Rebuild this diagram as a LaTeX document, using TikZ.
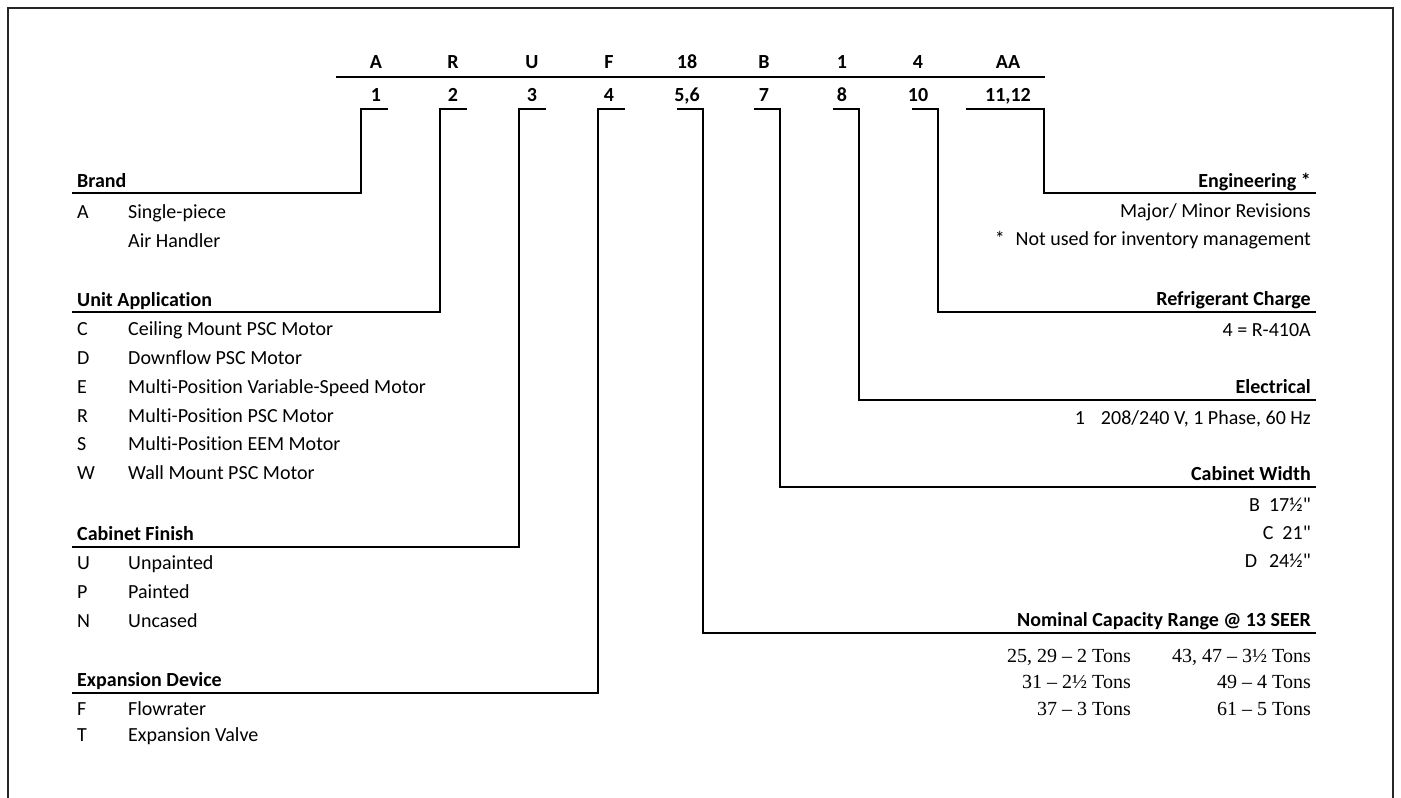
\documentclass[tikz,border=0pt]{standalone}
\usepackage{fontspec}
\setmainfont{Carlito}[Ligatures={TeXOff,NoCommon}]
\newfontfamily\capserif{Liberation Serif}
\newcommand\bodysize{\fontsize{20}{24}\selectfont}
\tikzset{
  code/.style={font=\bodysize\bfseries,inner sep=0pt,anchor=base},
  fieldhead/.style={font=\bodysize\bfseries,inner sep=0pt},
  opt/.style={font=\bodysize,inner sep=0pt},
  tons/.style={font=\capserif\bodysize,inner sep=0pt,anchor=base east},
  wire/.style={draw=black,line width=2pt},
  frame/.style={draw=black!85,line width=2.2pt}
}
\begin{document}
\begin{tikzpicture}[x=1pt,y=-1pt]
  \useasboundingbox (0,0) rectangle (1401,798);
  \draw[frame] (8,798) -- (8,8) -- (1393,8) -- (1393,798);
  % model number and digit positions
  \node[code] (lettA) at (376,68) {A};
  \node[code] (lettR) at (453,68) {R};
  \node[code] (lettU) at (532,68) {U};
  \node[code] (lettF) at (609,68) {F};
  \node[code] (lett18) at (687,68) {18};
  \node[code] (lettB) at (764,68) {B};
  \node[code] (lett1) at (842,68) {1};
  \node[code] (lett4) at (918,68) {4};
  \node[code] (lettAA) at (1008,68) {AA};
  \coordinate (ruleL) at (336,77);
  \coordinate (ruleR) at (1045,77);
  \draw[wire] (ruleL) -- (ruleR);
  \node[code] (pos1) at (376,101) {1};
  \node[code] (pos2) at (453,101) {2};
  \node[code] (pos3) at (532,101) {3};
  \node[code] (pos4) at (609,101) {4};
  \node[code] (pos56) at (687,101) {5,6};
  \node[code] (pos7) at (764,101) {7};
  \node[code] (pos8) at (842,101) {8};
  \node[code] (pos10) at (918,101) {10};
  \node[code] (pos1112) at (1008,101) {11,12};
  % left hand fields
  \node[fieldhead,anchor=base west] (brand) at (77,187) {Brand};
  \node[opt,anchor=base west] (brandA) at (77,218) {A};
  \node[opt,anchor=base west] (brandAd) at (128,218) {Single-piece};
  \node[opt,anchor=base west] (brandAe) at (128,247) {Air Handler};
  \node[fieldhead,anchor=base west] (unitapp) at (77,306) {Unit Application};
  \node[opt,anchor=base west] (appC) at (77,335) {C};
  \node[opt,anchor=base west] (appCd) at (128,335) {Ceiling Mount PSC Motor};
  \node[opt,anchor=base west] (appD) at (77,364) {D};
  \node[opt,anchor=base west] (appDd) at (128,364) {Downflow PSC Motor};
  \node[opt,anchor=base west] (appE) at (77,393) {E};
  \node[opt,anchor=base west] (appEd) at (128,393) {Multi-Position Variable-Speed Motor};
  \node[opt,anchor=base west] (appR) at (77,422) {R};
  \node[opt,anchor=base west] (appRd) at (128,422) {Multi-Position PSC Motor};
  \node[opt,anchor=base west] (appS) at (77,450) {S};
  \node[opt,anchor=base west] (appSd) at (128,450) {Multi-Position EEM Motor};
  \node[opt,anchor=base west] (appW) at (77,479) {W};
  \node[opt,anchor=base west] (appWd) at (128,479) {Wall Mount PSC Motor};
  \node[fieldhead,anchor=base west] (finish) at (77,540) {Cabinet Finish};
  \node[opt,anchor=base west] (finU) at (77,569) {U};
  \node[opt,anchor=base west] (finUd) at (128,569) {Unpainted};
  \node[opt,anchor=base west] (finP) at (77,598) {P};
  \node[opt,anchor=base west] (finPd) at (128,598) {Painted};
  \node[opt,anchor=base west] (finN) at (77,627) {N};
  \node[opt,anchor=base west] (finNd) at (128,627) {Uncased};
  \node[fieldhead,anchor=base west] (expdev) at (77,686) {Expansion Device};
  \node[opt,anchor=base west] (expF) at (77,715) {F};
  \node[opt,anchor=base west] (expFd) at (128,715) {Flowrater};
  \node[opt,anchor=base west] (expT) at (77,741) {T};
  \node[opt,anchor=base west] (expTd) at (128,741) {Expansion Valve};
  % right hand fields
  \node[fieldhead,anchor=base east] (engin) at (1311,187) {Engineering *};
  \node[opt,anchor=base east] (enginA) at (1311,217) {Major/ Minor Revisions};
  \node[opt,anchor=base east] (enginB) at (1311,245) {*\hspace{0.55em}Not used for inventory management};
  \node[fieldhead,anchor=base east] (refrig) at (1311,305) {Refrigerant Charge};
  \node[opt,anchor=base east] (refrigA) at (1311,336) {4 = R-410A};
  \node[fieldhead,anchor=base east] (elec) at (1311,393) {Electrical};
  \node[opt,anchor=base east] (elecA) at (1311,424) {1\hspace{0.8em}208/240 V, 1 Phase, 60 Hz};
  \node[fieldhead,anchor=base east] (cabwidth) at (1311,480) {Cabinet Width};
  \node[opt,anchor=base east] (widthB) at (1311,511) {B\hspace{0.45em}17½"};
  \node[opt,anchor=base east] (widthC) at (1311,539) {C\hspace{0.45em}21"};
  \node[opt,anchor=base east] (widthD) at (1311,567) {D\hspace{0.6em}24½"};
  \node[fieldhead,anchor=base east] (capacity) at (1311,626) {Nominal Capacity Range @ 13 SEER};
  \node[tons] (cap25) at (1131,662) {25, 29 – 2 Tons};
  \node[tons] (cap31) at (1131,688.5) {31 – 2½ Tons};
  \node[tons] (cap37) at (1131,715) {37 – 3 Tons};
  \node[tons] (cap43) at (1311,662) {43, 47 – 3½ Tons};
  \node[tons] (cap49) at (1311,688.5) {49 – 4 Tons};
  \node[tons] (cap61) at (1311,715) {61 – 5 Tons};
  % brackets from digit positions to the fields
  \coordinate (k1) at (388,109);  \coordinate (c1) at (361,109);  \coordinate (e1) at (72,193);
  \coordinate (k2) at (467,109);  \coordinate (c2) at (440,109);  \coordinate (e2) at (72,312);
  \coordinate (k3) at (546,109);  \coordinate (c3) at (519,109);  \coordinate (e3) at (72,547);
  \coordinate (k4) at (625,109);  \coordinate (c4) at (598,109);  \coordinate (e4) at (72,693);
  \coordinate (k56) at (677,109); \coordinate (c56) at (703,109); \coordinate (e56) at (1316,633);
  \coordinate (k7) at (754,109);  \coordinate (c7) at (780,109);  \coordinate (e7) at (1316,487);
  \coordinate (k8) at (833,109);  \coordinate (c8) at (859,109);  \coordinate (e8) at (1316,400);
  \coordinate (k10) at (912,109); \coordinate (c10) at (938,109); \coordinate (e10) at (1316,312);
  \coordinate (k1112) at (966,109); \coordinate (c1112) at (1044,109); \coordinate (e1112) at (1316,193);
  \draw[wire] (k1) -- (c1) |- (e1);
  \draw[wire] (k2) -- (c2) |- (e2);
  \draw[wire] (k3) -- (c3) |- (e3);
  \draw[wire] (k4) -- (c4) |- (e4);
  \draw[wire] (k56) -- (c56) |- (e56);
  \draw[wire] (k7) -- (c7) |- (e7);
  \draw[wire] (k8) -- (c8) |- (e8);
  \draw[wire] (k10) -- (c10) |- (e10);
  \draw[wire] (k1112) -- (c1112) |- (e1112);
\end{tikzpicture}
\end{document}
